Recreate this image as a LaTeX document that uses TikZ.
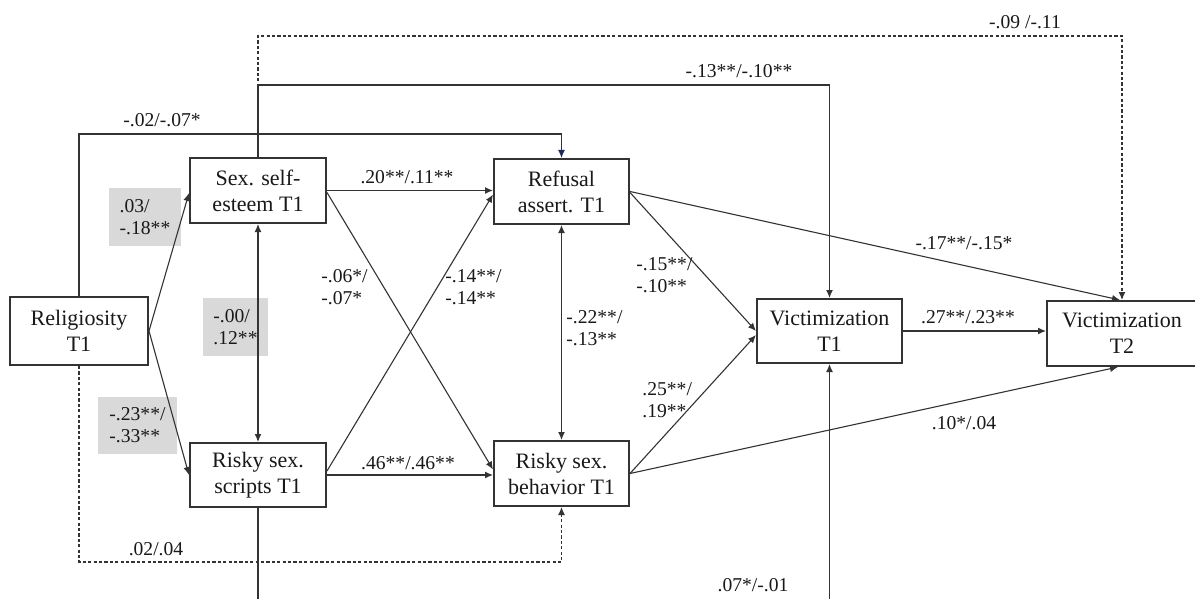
\documentclass[tikz,border=0pt]{standalone}
\usepackage{fontspec}
\setmainfont{LiberationSerif}[Extension=.ttf, UprightFont=*-Regular, BoldFont=*-Bold, ItalicFont=*-Italic, BoldItalicFont=*-BoldItalic]
\usetikzlibrary{arrows.meta,calc}
\definecolor{ln}{HTML}{333333}
\definecolor{navytip}{HTML}{1F2A5C}
\definecolor{greyfill}{HTML}{D9D9D9}
\begin{document}
\begin{tikzpicture}[x=0.5pt,y=-0.5pt,
  box/.style={draw=ln, line width=1pt, inner sep=0pt, align=center, font=\fontsize{11}{13}\selectfont, text=black!90},
  lbl/.style={font=\fontsize{9.8}{11}\selectfont, inner sep=0pt, text=black!90},
  gbox/.style={fill=greyfill, inner sep=0pt, align=left, font=\fontsize{9.8}{11}\selectfont, text=black!90},
  conn/.style={draw=ln, line width=0.55pt, -{Latex[length=4pt,width=3.4pt]}},
  dconn/.style={conn, {Latex[length=4pt,width=3.4pt]}-{Latex[length=4pt,width=3.4pt]}},
  dashconn/.style={conn, dash pattern=on 1.6pt off 1.1pt},
]
\useasboundingbox (0,0) rectangle (1195,599);
\clip (0,0) rectangle (1195,599);
\fill[white] (0,0) rectangle (1195,599);

% grey label boxes
\node[gbox, minimum width=36pt, minimum height=29pt] (g1) at (145,217) {.03/\\-.18**};
\node[gbox, minimum width=32.5pt, minimum height=29pt] (g2) at (235.5,327) {-.00/\\.12**};
\node[gbox, minimum width=39.5pt, minimum height=28.5pt] (g3) at (137.5,425.5) {-.23**/\\-.33**};

% boxes
\node[box, minimum width=69pt, minimum height=34pt] (rel) at (79,331) {Religiosity\\T1};
\node[box, minimum width=68pt, minimum height=32.5pt] (sse) at (258,190.5) {Sex. self-\\esteem T1};
\node[box, minimum width=68pt, minimum height=32pt] (rss) at (258,475) {Risky sex.\\scripts T1};
\node[box, minimum width=67.5pt, minimum height=32.5pt] (ref) at (561.5,191.5) {Refusal\\assert. T1};
\node[box, minimum width=67.5pt, minimum height=32.5pt] (rsb) at (561.5,473.5) {Risky sex.\\behavior T1};
\node[box, minimum width=72.5pt, minimum height=32pt] (v1) at (829.5,331) {Victimization\\T1};
\node[box, minimum width=75pt, minimum height=32.5pt] (v2) at (1122,333.5) {Victimization\\T2};

\coordinate (yA) at (0,36);
\coordinate (yB) at (0,85);
\coordinate (yC) at (0,134);
\coordinate (yD) at (0,562);
\coordinate (yE) at (0,680);

% routed connectors
\draw[dashconn] (sse.north) -- (sse.north |- yA) -- (v2.north |- yA) -- (v2.north);
\draw[conn] (sse.north) -- (sse.north |- yB) -- (v1.north |- yB) -- (v1.north);
\draw[conn, -{Latex[length=4pt,width=3.4pt,color=navytip]}] (rel.north) -- (rel.north |- yC) -- (ref.north |- yC) -- (ref.north);
\draw[dashconn] (rel.south) -- (rel.south |- yD) -- (rsb.south |- yD) -- (rsb.south);
\draw[conn] (rss.south) -- (rss.south |- yE) -- (v1.south |- yE) -- (v1.south);

% direct connectors
\draw[conn] (rel.east) -- ($(sse.west)+(0,2.5)$);
\draw[conn] (rel.east) -- (rss.west);
\draw[dconn] (sse.south) -- (rss.north);
\draw[conn] (sse.east) -- (sse.east -| ref.west);
\draw[conn] ($(sse.east)+(0,2)$) -- ($(rsb.west)+(0,-4)$);
\draw[conn] ($(rss.east)+(0,-4)$) -- ($(ref.west)+(0,3)$);
\draw[conn] (rss.east) -- (rss.east -| rsb.west);
\draw[dconn] (ref.south) -- (rsb.north);
\draw[conn] ($(ref.east)+(0,1)$) -- (v1.west);
\draw[conn] (rsb.east) -- ($(v1.west)+(0,4)$);
\draw[conn] (ref.east) -- ($(v2.north)+(-2,0)$);
\draw[conn] (rsb.east) -- ($(v2.south)+(-4,0)$);
\draw[conn] (v1.east) -- (v1.east -| v2.west);

% labels
\node[lbl] (l1) at (1025,22) {-.09 /-.11};
\node[lbl] (l2) at (739,71) {-.13**/-.10**};
\node[lbl] (l3) at (162,120) {-.02/-.07*};
\node[lbl] (l4) at (407,177) {.20**/.11**};
\node[lbl] (l5) at (408,463) {.46**/.46**};
\node[lbl, align=left, anchor=west] (l6) at (321,287) {-.06*/\\-.07*};
\node[lbl, align=left, anchor=west] (l7) at (445,287) {-.14**/\\-.14**};
\node[lbl, align=left, anchor=west] (l8) at (566,328) {-.22**/\\-.13**};
\node[lbl, align=left, anchor=west] (l9) at (636,275) {-.15**/\\-.10**};
\node[lbl, align=left, anchor=west] (l10) at (642,400) {.25**/\\.19**};
\node[lbl] (l11) at (964,243) {-.17**/-.15*};
\node[lbl] (l12) at (968,317) {.27**/.23**};
\node[lbl] (l13) at (964,423) {.10*/.04};
\node[lbl] (l14) at (156,549) {.02/.04};
\node[lbl] (l15) at (753,585) {.07*/-.01};
\end{tikzpicture}
\end{document}
